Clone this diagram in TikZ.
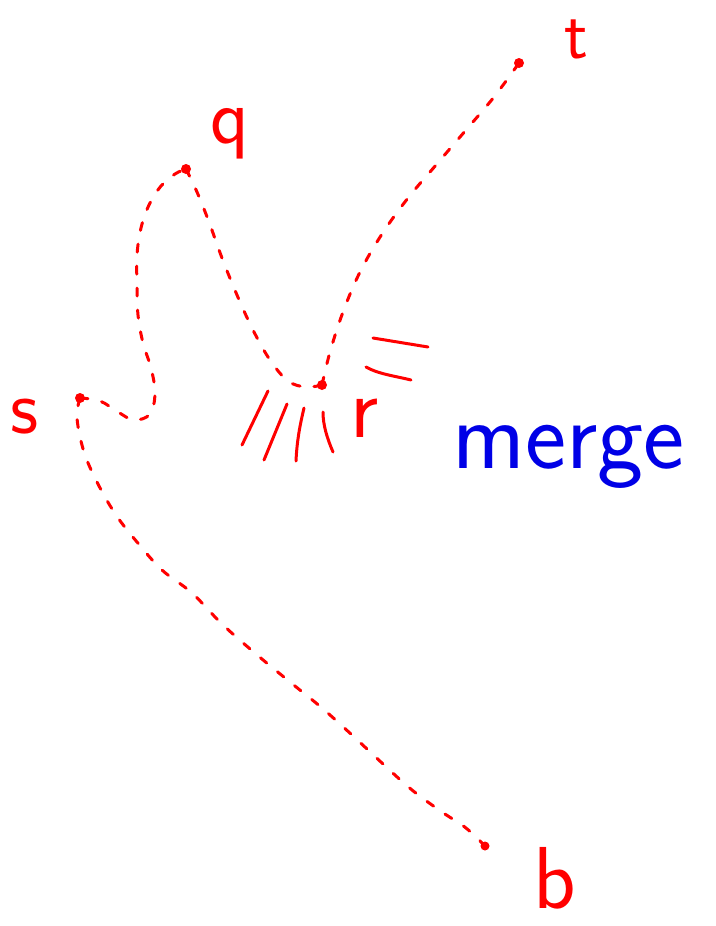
\documentclass[tikz,border=0pt]{standalone}
\usetikzlibrary{calc}
\definecolor{inkred}{RGB}{255,0,0}
\definecolor{inkblue}{RGB}{0,0,230}
\begin{document}
\begin{tikzpicture}[x=1pt,y=-1pt,
  dot/.style={circle,fill=inkred,inner sep=0pt,minimum size=10pt},
  dashline/.style={draw=inkred,line width=3pt,line cap=round,dash pattern=on 8pt off 14pt},
  stroke/.style={draw=inkred,line width=3pt,line cap=round},
  lbl/.style={text=inkred,inner sep=0pt,anchor=base west,font=\sffamily},
]
\useasboundingbox (0,0) rectangle (715,926);
% points
\node[dot] (s) at (80,398) {};
\node[dot] (q) at (186,169) {};
\node[dot] (r) at (322,385) {};
\node[dot] (t) at (519,63) {};
\node[dot,minimum size=9pt] (b) at (485,846) {};
% dashed paths
\draw[dashline] plot[smooth,tension=0.6] coordinates {(s.center) (100,401) (118,412) (134,420) (150,414) (155,393) (151,368) (143,343) (138,315) (137,285) (137,255) (141,228) (149,205) (161,186) (175,174) (q.center)};
\draw[dashline] plot[smooth,tension=0.6] coordinates {(q.center) (197,192) (209,222) (222,258) (237,295) (253,330) (270,360) (288,381) (306,387) (r.center)};
\draw[dashline] plot[smooth,tension=0.6] coordinates {(r.center) (330,352) (343,312) (360,272) (382,234) (408,198) (436,165) (466,130) (494,97) (t.center)};
\draw[dashline] plot[smooth,tension=0.6] coordinates {(s.center) (77,418) (84,452) (98,484) (116,515) (137,542) (162,570) (192,593) (222,624) (256,654) (290,682) (322,708) (352,735) (382,763) (412,790) (442,812) (466,828) (b.center)};
% hatch marks below r
\coordinate (h1a) at (242,445); \coordinate (h1b) at (268,391);
\coordinate (h2a) at (264,460); \coordinate (h2b) at (287,404);
\coordinate (h3a) at (296,461); \coordinate (h3b) at (304,408);
\coordinate (h4a) at (333,452); \coordinate (h4b) at (323,412);
\draw[stroke] (h1a) -- (h1b);
\draw[stroke] (h2a) -- (h2b);
\draw[stroke] (h3a) .. controls (297,440) and (300,425) .. (h3b);
\draw[stroke] (h4a) .. controls (327,438) and (323,425) .. (h4b);
% marks right of r
\coordinate (m1a) at (373,338); \coordinate (m1b) at (428,347);
\coordinate (m2a) at (366,367); \coordinate (m2b) at (411,380);
\draw[stroke] (m1a) -- (m1b);
\draw[stroke] (m2a) .. controls (378,374) and (395,376) .. (m2b);
% labels
\node[lbl,font=\sffamily\fontsize{78}{78}\selectfont] (ls) at (10,433) {s};
\node[lbl,font=\sffamily\fontsize{80}{80}\selectfont] (lq) at (210,143) {q};
\node[lbl,font=\sffamily\fontsize{88}{88}\selectfont] (lr) at (350,437) {r};
\node[lbl,font=\sffamily\fontsize{70}{70}\selectfont] (lt) at (564,58) {t};
\node[lbl,font=\sffamily\fontsize{88}{88}\selectfont] (lb) at (533,908) {b};
\node[lbl,text=inkblue,font=\sffamily\fontsize{98}{98}\selectfont] (lm) at (452,468) {merge};
\end{tikzpicture}
\end{document}
